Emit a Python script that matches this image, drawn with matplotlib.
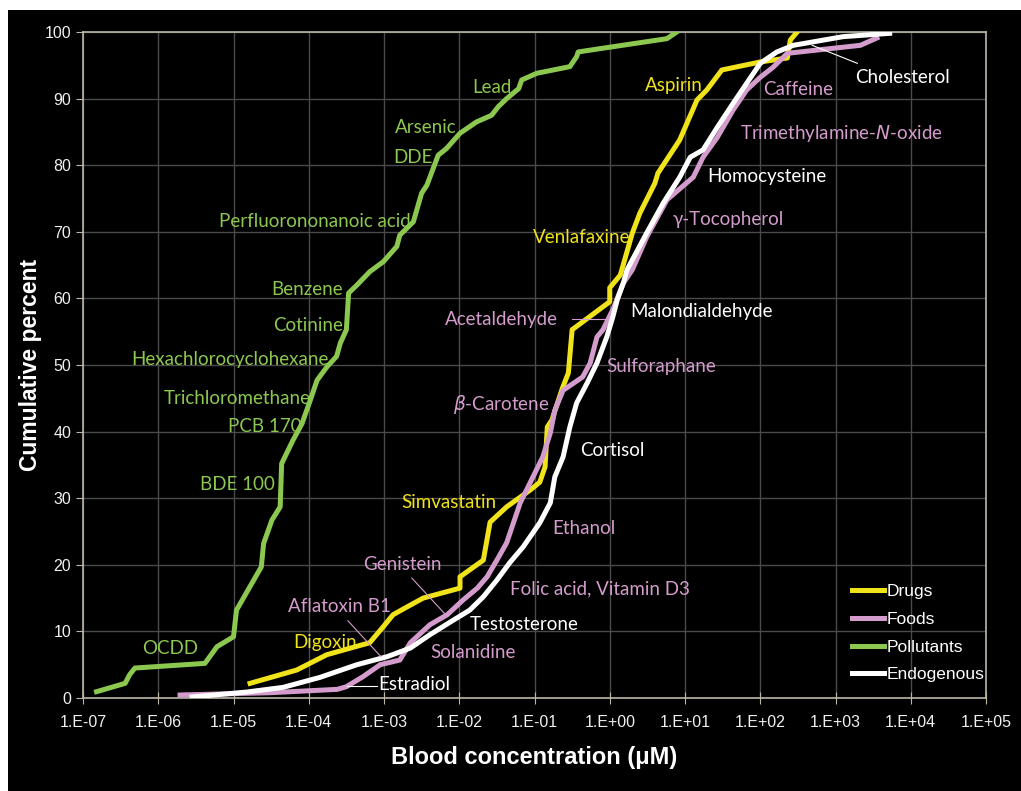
import numpy as np
import matplotlib.pyplot as plt

# values: log10 of blood concentration (uM) and cumulative percent
pollutants_logc = [-6.82, -6.44, -6.38, -6.31, -5.38, -5.22, -5.00, -4.96, -4.63, -4.60, -4.49,
                   -4.38, -4.36, -4.21, -4.09, -3.98, -3.89, -3.76, -3.63, -3.58, -3.50, -3.47,
                   -3.36, -3.19, -3.01, -2.83, -2.79, -2.61, -2.50, -2.43, -2.32, -2.28, -2.17,
                   -1.99, -1.77, -1.57, -1.48, -1.37, -1.21, -1.17, -0.97, -0.53, -0.44, -0.42,
                   -0.13, 0.76, 0.89]
pollutants_pct = [0.95, 2.2, 3.5, 4.5, 5.2, 7.7, 9.2, 13.2, 19.7, 23.2, 26.7,
                  28.7, 35.2, 38.7, 41.2, 44.7, 47.7, 49.7, 51.3, 53.3, 55.3, 60.8,
                  62.0, 64.0, 65.5, 67.8, 69.5, 71.5, 75.8, 77.0, 80.3, 81.5, 82.5,
                  84.8, 86.5, 87.5, 88.8, 90.0, 91.5, 92.8, 93.8, 94.8, 96.3, 97.0,
                  97.5, 99.0, 100.0]

drugs_logc = [-4.78, -4.16, -3.76, -3.19, -3.01, -2.88, -2.69, -2.48, -1.99, -1.99, -1.68,
              -1.59, -1.37, -1.06, -0.93, -0.86, -0.83, -0.77, -0.63, -0.55, -0.50, 0.00,
              0.00, 0.14, 0.30, 0.40, 0.60, 0.64, 0.93, 1.16, 1.29, 1.49, 2.00, 2.36, 2.40, 2.49]
drugs_pct = [2.2, 4.2, 6.5, 8.3, 10.7, 12.5, 13.7, 15.0, 16.5, 18.2, 20.7,
             26.4, 28.7, 31.2, 32.4, 34.7, 40.7, 41.7, 46.5, 48.8, 55.3, 59.5,
             61.6, 63.5, 69.8, 72.8, 77.3, 78.8, 83.8, 89.8, 91.3, 94.3, 95.5, 96.1, 98.8, 100.0]

foods_logc = [-5.71, -4.50, -3.62, -3.50, -3.28, -3.05, -2.79, -2.65, -2.39, -2.16, -1.95,
              -1.76, -1.63, -1.50, -1.37, -1.19, -1.02, -0.89, -0.79, -0.73, -0.62, -0.36,
              -0.26, -0.17, -0.09, 0.04, 0.18, 0.30, 0.49, 0.76, 1.11, 1.24, 1.43, 1.64,
              1.82, 2.00, 2.17, 2.36, 3.33, 3.55]
foods_pct = [0.45, 0.8, 1.3, 1.7, 3.2, 5.0, 5.7, 8.3, 11.0, 12.5, 14.7,
             16.5, 18.2, 20.7, 23.3, 29.3, 33.2, 36.2, 39.8, 43.2, 46.2, 48.2,
             50.3, 54.2, 55.3, 58.3, 62.3, 64.3, 69.2, 74.8, 78.2, 81.2, 84.2, 88.3,
             91.3, 93.2, 94.7, 96.8, 98.0, 99.1]

endogenous_logc = [-5.55, -4.82, -4.34, -3.85, -3.36, -2.96, -2.65, -2.39, -2.12, -1.86, -1.68,
                   -1.50, -1.33, -1.15, -0.93, -0.79, -0.73, -0.62, -0.53, -0.44, -0.30, -0.17,
                   -0.04, 0.04, 0.10, 0.18, 0.23, 0.49, 0.71, 0.93, 1.07, 1.24, 1.43, 1.64,
                   1.82, 2.00, 2.22, 2.44, 3.10, 3.72]
endogenous_pct = [0.15, 0.9, 1.6, 3.1, 5.0, 6.2, 7.5, 9.5, 11.4, 13.2, 15.2,
                  17.7, 20.3, 22.7, 26.3, 29.3, 33.2, 36.2, 40.7, 44.3, 47.3, 50.3,
                  54.2, 57.2, 59.8, 62.3, 64.3, 69.8, 74.3, 78.2, 81.2, 82.3, 85.7, 89.3,
                  92.3, 95.3, 97.0, 98.0, 99.3, 99.8]

green = '#8cc850'
yellow = '#f0e31a'
pink = '#d49ccc'
white = '#ffffff'

# labels: (text, log10 conc, percent, horizontal alignment)
pollutant_labels = [('Lead', -1.30, 91.6, 'right'), ('Arsenic', -2.03, 85.6, 'right'),
                    ('DDE', -2.35, 81.1, 'right'), ('Perfluorononanoic acid', -2.65, 71.5, 'right'),
                    ('Benzene', -3.54, 61.3, 'right'), ('Cotinine', -3.54, 56.0, 'right'),
                    ('Hexachlorocyclohexane', -3.74, 50.9, 'right'), ('Trichloromethane', -3.98, 45.0, 'right'),
                    ('PCB 170', -4.10, 40.7, 'right'), ('BDE 100', -4.45, 32.0, 'right'),
                    ('OCDD', -5.47, 7.5, 'right')]
drug_labels = [('Aspirin', 1.24, 92.0, 'right'), ('Venlafaxine', 0.27, 69.2, 'right'),
               ('Simvastatin', -1.50, 29.4, 'right'), ('Digoxin', -3.36, 8.4, 'right')]
food_labels = [('Caffeine', 2.04, 91.3, 'left'), ('Trimethylamine-$\\it{N}$-oxide', 1.73, 84.8, 'left'),
               ('\u03b3-Tocopherol', 0.83, 71.8, 'left'), ('Acetaldehyde', -2.19, 56.8, 'left'),
               ('Sulforaphane', -0.04, 49.8, 'left'), ('$\\beta$-Carotene', -2.08, 44.0, 'left'),
               ('Ethanol', -0.77, 25.5, 'left'), ('Genistein', -3.28, 20.0, 'left'),
               ('Aflatoxin B1', -4.28, 13.7, 'left'), ('Folic acid, Vitamin D3', -1.32, 16.4, 'left'),
               ('Solanidine', -2.39, 6.8, 'left')]
endogenous_labels = [('Cholesterol', 3.26, 93.2, 'left'), ('Homocysteine', 1.29, 78.3, 'left'),
                     ('Malondialdehyde', 0.27, 58.0, 'left'), ('Cortisol', -0.40, 37.2, 'left'),
                     ('Testosterone', -1.86, 11.0, 'left'), ('Estradiol', -3.08, 2.0, 'left')]

# leader lines: (x0, y0, x1, y1, colour)
leaders = [(-0.50, 56.9, -0.02, 56.9, pink), (-2.63, 18.0, -2.18, 12.5, pink),
           (-3.48, 11.6, -3.04, 6.2, pink), (-3.49, 1.8, -3.09, 1.8, white),
           (2.69, 98.0, 3.29, 95.3, white)]

fig = plt.figure(figsize=(10.21, 7.91), dpi=100, facecolor='white')
fig.patches.append(plt.Rectangle((8 / 1021, 0), 1, 781 / 791, transform=fig.transFigure,
                                 facecolor='black', edgecolor='none', zorder=-10))
ax = fig.add_axes([83 / 1021, 1 - 698 / 791, 903 / 1021, 666 / 791])
ax.set_facecolor('black')

ax.plot(10 ** np.array(pollutants_logc), pollutants_pct, color=green, lw=3.6, zorder=3, label='Pollutants')
ax.plot(10 ** np.array(drugs_logc), drugs_pct, color=yellow, lw=3.6, zorder=4, label='Drugs')
ax.plot(10 ** np.array(foods_logc), foods_pct, color=pink, lw=3.6, zorder=5, label='Foods')
ax.plot(10 ** np.array(endogenous_logc), endogenous_pct, color=white, lw=3.6, zorder=6, label='Endogenous')

ax.set_xscale('log')
ax.set_xlim(1e-7, 1e5)
ax.set_ylim(0, 100)
ax.set_xticks(10.0 ** np.arange(-7, 6))
ax.set_xticklabels(['1.E' + ('+' if e >= 0 else '-') + '%02d' % abs(e) for e in range(-7, 6)])
ax.set_yticks(np.arange(0, 101, 10))

ax.grid(True, which='major', color='#4a4a4a', lw=1.0)
for s in ax.spines.values():
    s.set_color('#bdb8a6')
    s.set_linewidth(1.2)
ax.tick_params(axis='both', which='major', colors='#bdb8a6', labelcolor='#f0f0f0',
               labelsize=11.5, direction='out', length=5)
ax.tick_params(axis='x', which='major', direction='inout', length=8, pad=8)
ax.tick_params(axis='x', which='minor', colors='#bdb8a6', direction='in', length=4)
ax.tick_params(axis='y', which='minor', left=False)
for lab in ax.get_xticklabels() + ax.get_yticklabels():
    lab.set_family('Liberation Sans')

ax.set_xlabel('Blood concentration (\u03bcM)', color='white', fontsize=17, fontweight='bold',
              family='Liberation Sans', labelpad=12)
ax.set_ylabel('Cumulative percent', color='white', fontsize=16.5, fontweight='bold',
              family='Liberation Sans', labelpad=2)

for labels, col in [(pollutant_labels, green), (drug_labels, yellow),
                    (food_labels, pink), (endogenous_labels, white)]:
    for txt, lx, yy, ha in labels:
        ax.text(10 ** lx, yy, txt, color=col, fontsize=13.5, family='Lato', ha=ha, va='center',
                zorder=8)

for x0, y0, x1, y1, col in leaders:
    ax.plot([10 ** x0, 10 ** x1], [y0, y1], color=col, lw=0.8, zorder=7)

lines = {l.get_label(): l for l in ax.lines}
order = ['Drugs', 'Foods', 'Pollutants', 'Endogenous']
leg = ax.legend([lines[k] for k in order], order,
                loc='upper left', bbox_to_anchor=(0.842, 0.184), frameon=False,
                handlelength=1.85, handletextpad=0.15, labelspacing=0.72, borderpad=0,
                prop={'family': 'Liberation Sans', 'size': 12.5})
for t in leg.get_texts():
    t.set_color('white')

fig.savefig('out.png', dpi=100, facecolor=fig.get_facecolor())
